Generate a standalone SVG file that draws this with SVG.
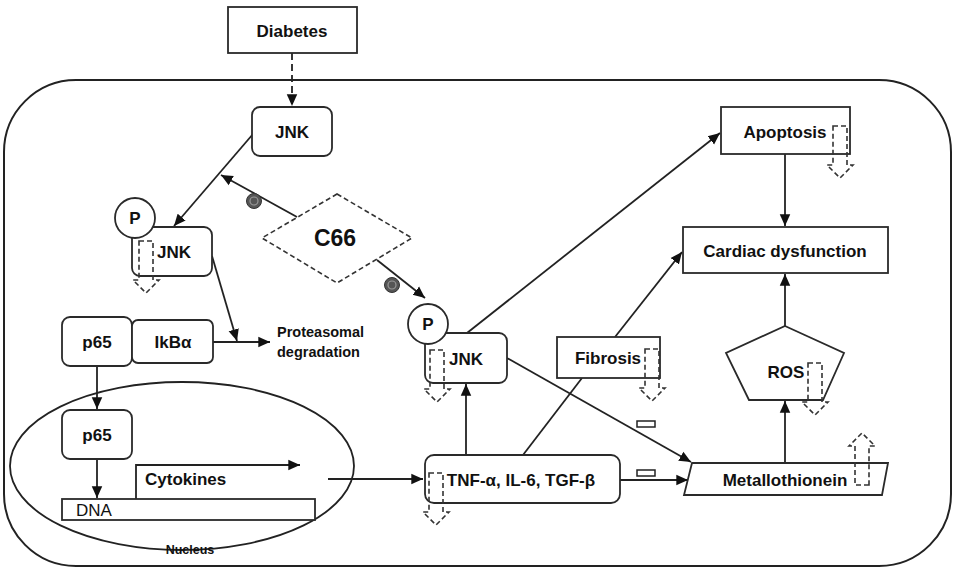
<svg xmlns="http://www.w3.org/2000/svg" xmlns:xlink="http://www.w3.org/1999/xlink" width="954" height="569" viewBox="0 0 954 569">
<style>
  .box{fill:#fff;stroke:#2a2a2a;stroke-width:1.8}
  .t{font-family:"Liberation Sans",Arial,sans-serif;font-weight:bold;font-size:17px;fill:#111;text-anchor:middle}
  .tl{text-anchor:start}
  .ln{fill:none;stroke:#222;stroke-width:1.8;marker-end:url(#ah)}
  .ln0{fill:none;stroke:#222;stroke-width:1.8}
  .dash{fill:none;stroke:#333;stroke-width:1.6;stroke-dasharray:5 3}
  .inh{fill:#555;stroke:#333;stroke-width:1}
  .inhi{fill:none;stroke:#999;stroke-width:1.2}
</style>
<defs>
  <marker id="ah" viewBox="0 0 10 10" refX="10" refY="5" markerWidth="6.5" markerHeight="6.5" markerUnits="strokeWidth" orient="auto">
    <path d="M0,0.5 L10,5 L0,9.5 Z" fill="#111"/>
  </marker>
  <path id="darr" d="M-7,0 H7 V39 H13 L0,52 L-13,39 H-7 Z" class="dash"/>
</defs>
<rect x="4" y="80" width="947" height="486" rx="72" ry="72" fill="none" stroke="#222" stroke-width="2"/>
<ellipse id="nucleus-shape" cx="182" cy="466" rx="172" ry="84" fill="none" stroke="#222" stroke-width="1.8"/>

<g id="connectors">
  <line x1="292" y1="53" x2="292" y2="106" class="ln" stroke-dasharray="7 4"/>
  <line x1="253" y1="134" x2="174" y2="226" class="ln"/>
  <line x1="297" y1="217" x2="221" y2="175" class="ln"/>
  <line x1="377" y1="260" x2="425" y2="298" class="ln"/>
  <line x1="212" y1="256" x2="237" y2="341" class="ln"/>
  <line x1="213" y1="342" x2="270" y2="342" class="ln"/>
  <line x1="97" y1="366" x2="97" y2="409" class="ln"/>
  <line x1="97" y1="459" x2="97" y2="498" class="ln"/>
  <path d="M136,499 V465 H300" class="ln"/>
  <line x1="328" y1="479" x2="423" y2="479" class="ln"/>
  <line x1="466" y1="455" x2="466" y2="384" class="ln"/>
  <line x1="467" y1="333" x2="720" y2="133" class="ln"/>
  <line x1="523" y1="455" x2="582" y2="378" class="ln0"/>
  <line x1="615" y1="337" x2="682" y2="252" class="ln"/>
  <line x1="507" y1="358" x2="691" y2="462" class="ln"/>
  <line x1="620" y1="480" x2="688" y2="480" class="ln"/>
  <line x1="785" y1="154" x2="785" y2="226" class="ln"/>
  <line x1="785" y1="326" x2="785" y2="274" class="ln"/>
  <line x1="785" y1="463" x2="785" y2="401" class="ln"/>
  <rect x="637" y="421" width="18" height="6" fill="#fff" stroke="#222" stroke-width="1.5"/>
  <rect x="637" y="470" width="18" height="6" fill="#fff" stroke="#222" stroke-width="1.5"/>
  <g id="inhib1"><circle cx="254" cy="201" r="7.5" class="inh"/><circle cx="254" cy="201" r="4" class="inhi"/></g>
  <g id="inhib2"><circle cx="392" cy="285" r="7.5" class="inh"/><circle cx="392" cy="285" r="4" class="inhi"/></g>
</g>

<g id="diabetes"><rect x="228" y="7" width="129" height="46" class="box"/><text x="292" y="37" class="t">Diabetes</text></g>
<g id="jnk1"><rect x="252" y="107" width="80" height="49" rx="8" class="box"/><text x="292" y="138" class="t">JNK</text></g>
<g id="pjnk1">
  <rect x="132" y="227" width="80" height="49" rx="8" class="box"/>
  <text x="174" y="258" class="t">JNK</text>
  <circle cx="135" cy="218" r="20" class="box"/>
  <text x="135" y="224" class="t">P</text>
  <use xlink:href="#darr" href="#darr" x="146" y="241"/>
</g>
<g id="c66"><path d="M337,194 L412,238 L337,283 L262,238 Z" fill="#fff" class="dash" stroke-dasharray="7 4"/><text x="335" y="246" class="t" style="font-size:23px">C66</text></g>
<g id="p65"><rect x="62" y="317" width="70" height="49" rx="8" class="box"/><text x="97" y="348" class="t">p65</text></g>
<g id="ikba"><rect x="132" y="320" width="81" height="43" rx="6" class="box"/><text x="173" y="348" class="t">IkBα</text></g>
<g id="proteasomal"><text x="277" y="337" class="t tl" style="font-size:14.5px">Proteasomal</text><text x="277" y="357" class="t tl" style="font-size:14.5px">degradation</text></g>
<g id="p65n"><rect x="62" y="410" width="70" height="49" rx="8" class="box"/><text x="97" y="441" class="t">p65</text></g>
<g id="dna"><rect x="62" y="499" width="253" height="21" class="box"/><text x="76" y="516" class="t tl" style="font-weight:normal">DNA</text></g>
<g id="cytokines"><text x="145" y="485" class="t tl">Cytokines</text></g>
<g id="nucleus"><text x="190" y="554" class="t" style="font-size:12.5px">Nucleus</text></g>
<g id="pjnk2">
  <rect x="425" y="333" width="82" height="50" rx="8" class="box"/>
  <text x="466" y="365" class="t">JNK</text>
  <circle cx="428" cy="324" r="20" class="box"/>
  <text x="428" y="330" class="t">P</text>
  <use xlink:href="#darr" href="#darr" x="437" y="350"/>
</g>
<g id="tnf"><rect x="425" y="455" width="195" height="48" rx="9" class="box"/><text x="521" y="486" class="t">TNF-α, IL-6, TGF-β</text><use xlink:href="#darr" href="#darr" x="436" y="473"/></g>
<g id="fibrosis"><rect x="557" y="337" width="103" height="41" class="box"/><text x="608" y="364" class="t">Fibrosis</text><use xlink:href="#darr" href="#darr" x="652" y="349"/></g>
<g id="apoptosis"><rect x="721" y="107" width="129" height="47" class="box"/><text x="785" y="138" class="t">Apoptosis</text><use xlink:href="#darr" href="#darr" x="840" y="126"/></g>
<g id="cardiac"><rect x="683" y="227" width="205" height="46" class="box"/><text x="785" y="257" class="t">Cardiac dysfunction</text></g>
<g id="ros"><path d="M785,326 L844,353 L823,400 L749,400 L726,353 Z" class="box"/><text x="786" y="378" class="t">ROS</text><use xlink:href="#darr" href="#darr" x="815" y="363"/></g>
<g id="metallothionein"><path d="M692,463 L888,463 L882,495 L684,495 Z" class="box"/><text x="785" y="486" class="t">Metallothionein</text><use xlink:href="#darr" href="#darr" transform="translate(862,485) rotate(180)"/></g>
</svg>
